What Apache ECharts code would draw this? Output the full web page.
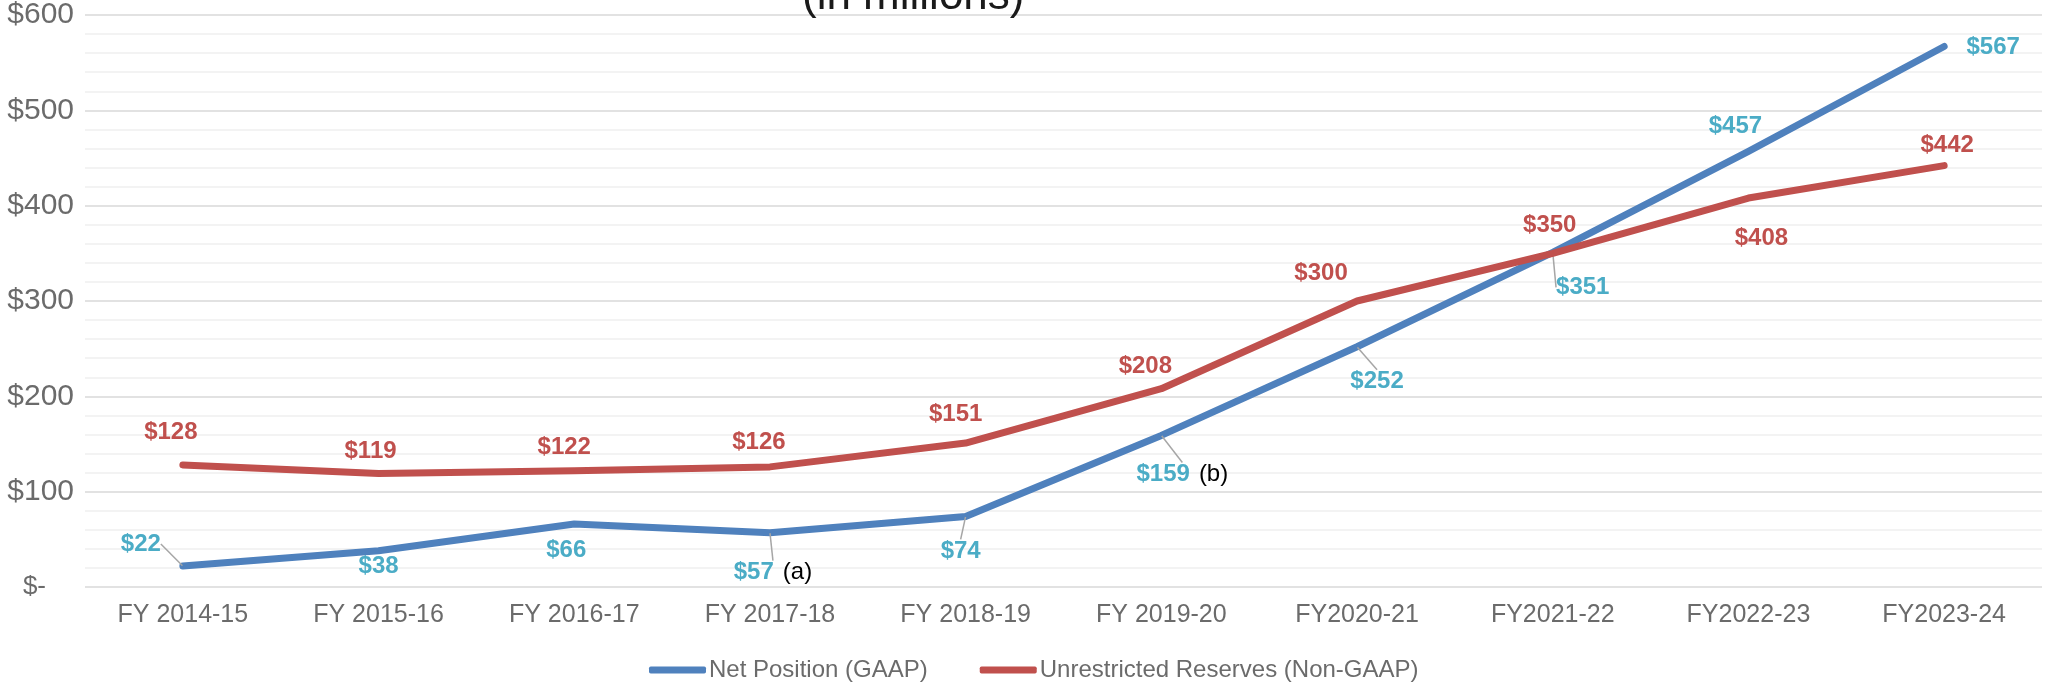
<!DOCTYPE html>
<html>
<head>
<meta charset="utf-8">
<script src="https://cdn.jsdelivr.net/npm/echarts@6/dist/echarts.min.js"></script>
<style>
  html, body { margin: 0; padding: 0; background: #fff; }
  #chart { width: 2046px; height: 682px; }
</style>
</head>
<body>
<div id="chart"></div>
<script>
// values in millions
const years = ['FY 2014-15', 'FY 2015-16', 'FY 2016-17', 'FY 2017-18', 'FY 2018-19',
  'FY 2019-20', 'FY2020-21', 'FY2021-22', 'FY2022-23', 'FY2023-24'];
const netPosition = [22, 38, 66, 57, 74, 159, 252, 351, 457, 567];
const unrestricted = [128, 119, 122, 126, 151, 208, 300, 350, 408, 442];
const notes = { 3: '(a)', 5: '(b)' };

// label placement relative to each point (px) - layout only
const netOffsets = [[-42, -22], [0, 16], [-8, 26], [3, 40], [-5, 35],
  [21, 39], [20, 35], [30, 35], [-13, -25], [49, 1]];
const netLeaders = [0, 3, 4, 5, 6, 7];
const resOffsets = [[-12, -33], [-8, -22], [-10, -23], [-11, -25], [-10, -29],
  [-16, -22], [-36, -28], [-3, -28], [13, 40], [3, -20]];

const FONT = '"Liberation Sans", Arial, sans-serif';
const BLUE = '#4F81BD', RED = '#C0504D', TEAL = '#4BACC6';

const chart = echarts.init(document.getElementById('chart'));

function buildData(values, leaders) {
  return values.map((v, i) => {
    const item = { value: v };
    if (leaders && leaders.indexOf(i) >= 0) {
      item.labelLine = { show: true };
    }
    return item;
  });
}

chart.setOption({
  animation: false,
  textStyle: { fontFamily: FONT },
  title: {
    text: '(in millions)',
    left: 797,
    top: -30,
    textStyle: { fontSize: 44, fontWeight: 'normal', color: '#1a1a1a', fontFamily: FONT }
  },
  legend: {
    left: 644,
    top: 653,
    itemWidth: 57,
    itemHeight: 7,
    itemGap: 52,
    icon: 'roundRect',
    textStyle: { fontSize: 24, color: '#6b6b6b', fontFamily: FONT, padding: [0, 0, 0, -2] },
    data: ['Net Position (GAAP)', 'Unrestricted Reserves (Non-GAAP)']
  },
  grid: {
    left: 85,
    right: 4,
    top: 14.5,
    bottom: 95
  },
  xAxis: {
    type: 'category',
    data: years,
    boundaryGap: true,
    axisLine: { show: false },
    axisTick: { show: false },
    axisLabel: { fontSize: 25, color: '#6b6b6b', margin: 16, interval: 0 }
  },
  yAxis: {
    type: 'value',
    min: 0,
    max: 600,
    interval: 100,
    axisLine: { show: false },
    axisTick: { show: false },
    axisLabel: {
      fontSize: 30,
      color: '#6b6b6b',
      margin: 11,
      formatter: v => v === 0 ? '{z|$-}' : '$' + v,
      rich: { z: { fontSize: 26, color: '#6b6b6b', padding: [0, 28, 0, 0] } }
    },
    splitLine: { lineStyle: { color: '#d9d9d9', width: 1.5 } },
    minorTick: { show: false, splitNumber: 5 },
    minorSplitLine: { show: true, lineStyle: { color: '#f0f0f0', width: 1.5 } }
  },
  series: [
    {
      name: 'Net Position (GAAP)',
      type: 'line',
      data: buildData(netPosition, netLeaders),
      symbol: 'circle',
      symbolSize: 1,
      itemStyle: { color: BLUE },
      lineStyle: { color: BLUE, width: 7, cap: 'round', join: 'round' },
      label: {
        show: true,
        position: 'inside',
        fontSize: 24,
        fontWeight: 'bold',
        color: TEAL,
        formatter: p => notes[p.dataIndex]
          ? '{v|$' + p.value + '}{n|' + notes[p.dataIndex] + '}'
          : '$' + p.value,
        rich: {
          v: { fontSize: 24, fontWeight: 'bold', color: TEAL },
          n: { fontSize: 24, fontWeight: 'normal', color: '#000', padding: [0, 0, 0, 9] }
        }
      },
      labelLine: { show: false, lineStyle: { color: '#a6a6a6', width: 1.5 } },
      labelLayout: p => ({ dx: netOffsets[p.dataIndex][0], dy: netOffsets[p.dataIndex][1] }),
      z: 2
    },
    {
      name: 'Unrestricted Reserves (Non-GAAP)',
      type: 'line',
      data: buildData(unrestricted),
      symbol: 'circle',
      symbolSize: 1,
      itemStyle: { color: RED },
      lineStyle: { color: RED, width: 7, cap: 'round', join: 'round' },
      label: {
        show: true,
        position: 'inside',
        fontSize: 24,
        fontWeight: 'bold',
        color: RED,
        formatter: p => '$' + p.value
      },
      labelLayout: p => ({ dx: resOffsets[p.dataIndex][0], dy: resOffsets[p.dataIndex][1] }),
      z: 3
    }
  ]
});

window.addEventListener('resize', () => chart.resize());
</script>
</body>
</html>
